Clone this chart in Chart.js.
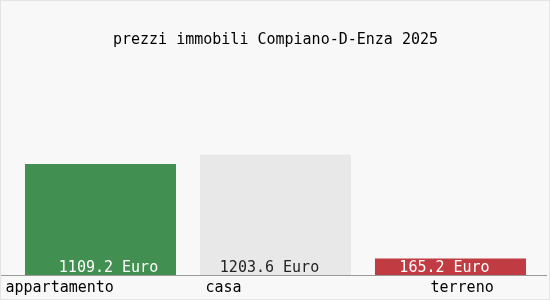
<!DOCTYPE html>
<html>
<head>
<meta charset="utf-8">
<script src="https://cdn.jsdelivr.net/npm/chart.js@4/dist/chart.umd.min.js"></script>
<style>
  html, body { margin: 0; padding: 0; background: #ffffff; }
  #wrap { width: 550px; height: 300px; box-sizing: border-box; border: 1px solid #e4e4e4; background: #f8f8f8; }
</style>
</head>
<body>
<div id="wrap"><canvas id="myChart" width="548" height="298"></canvas></div>
<script>
"use strict";

const categories = ["appartamento", "casa", "terreno"];
const prices = [1109.2, 1203.6, 165.2];
const valueLabels = ["1109.2 Euro", "1203.6 Euro", "165.2 Euro"];
const chartTitle = "prezzi immobili Compiano-D-Enza 2025";

const barColors = ["#418f51", "#e8e8e8", "#c13c42"];
const textColors = ["#ffffff", "#222222", "#ffffff"];
// nudges so the labels sit where the original put them
const categoryShift = [-95, -70, -20];
const valueShift = [8, -6, -6];
const font = "15px 'DejaVu Sans Mono', monospace";

const labelPlugin = {
    id: "labels",
    afterDatasetsDraw(chart) {
        const ctx = chart.ctx;
        const x = chart.scales.x;
        const y = chart.scales.y;
        const base = y.getPixelForValue(0);
        ctx.save();
        ctx.strokeStyle = "#999999";
        ctx.lineWidth = 1;
        ctx.beginPath();
        ctx.moveTo(0, base + 0.5);
        ctx.lineTo(chart.width - 2, base + 0.5);
        ctx.stroke();
        ctx.font = font;
        ctx.textBaseline = "middle";
        categories.forEach(function (cat, i) {
            const cx = x.getPixelForValue(i);
            ctx.textAlign = "left";
            ctx.fillStyle = "#000000";
            ctx.fillText(cat, cx + categoryShift[i], base + 13);
            ctx.textAlign = "center";
            ctx.fillStyle = textColors[i];
            ctx.fillText(valueLabels[i], cx + valueShift[i], base - 7);
        });
        ctx.restore();
    }
};

const ctx = document.getElementById("myChart");
const chart = new Chart(ctx, {
    type: "bar",
    data: {
        labels: categories,
        datasets: [{
            data: prices,
            backgroundColor: barColors,
            borderWidth: 0,
            barPercentage: 0.863,
            categoryPercentage: 1
        }]
    },
    options: {
        responsive: false,
        animation: false,
        layout: { padding: { left: 12, right: 11, top: 0, bottom: 24 } },
        scales: {
            x: { display: false },
            y: { display: false, min: 0, max: 2200 }
        },
        plugins: {
            legend: { display: false },
            tooltip: { enabled: false },
            title: {
                display: true,
                text: chartTitle,
                color: "#000000",
                font: { family: "'DejaVu Sans Mono', monospace", size: 15, weight: "normal" },
                padding: { top: 30, bottom: 6 }
            }
        }
    },
    plugins: [labelPlugin]
});
</script>
</body>
</html>
